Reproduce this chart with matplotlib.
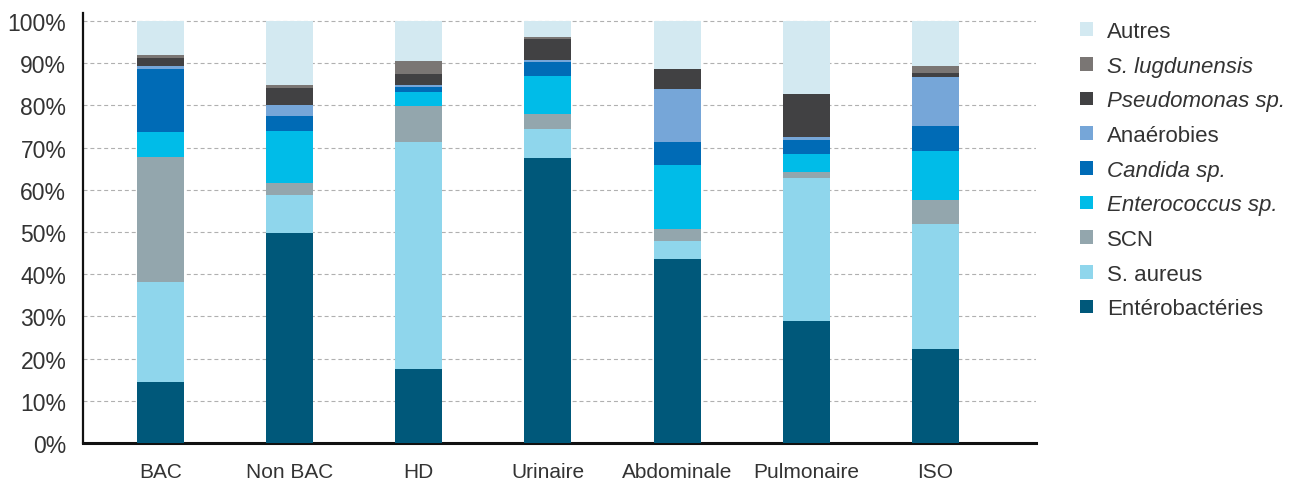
import matplotlib
matplotlib.use("Agg")
import matplotlib.pyplot as plt
import numpy as np

plt.rcParams['font.family'] = ['Liberation Sans', 'DejaVu Sans']

categories = ["BAC", "Non BAC", "HD", "Urinaire", "Abdominale", "Pulmonaire", "ISO"]

enterobacteries = [14.5, 49.8, 17.5, 67.5, 43.6, 28.9, 22.3]
s_aureus        = [23.7,  9.0, 53.8,  6.9,  4.3, 33.9, 29.6]
scn             = [29.6,  2.8,  8.6,  3.6,  2.8,  1.4,  5.7]
enterococcus    = [ 5.9, 12.3,  3.3,  9.0, 15.2,  4.3, 11.6]
candida         = [14.9,  3.6,  1.2,  3.3,  5.4,  3.3,  5.9]
anaerobies      = [ 0.7,  2.6,  0.4,  0.5, 12.6,  0.7, 11.6]
pseudomonas     = [ 1.9,  4.0,  2.6,  4.9,  4.7, 10.2,  1.0]
s_lugdunensis   = [ 0.7,  0.7,  3.1,  0.5,  0.0,  0.0,  1.6]
autres          = [ 8.1, 15.2,  9.5,  3.8, 11.4, 17.3, 10.7]

series_labels = ["Entérobactéries", "S. aureus", "SCN", "Enterococcus sp.", "Candida sp.",
                 "Anaérobies", "Pseudomonas sp.", "S. lugdunensis", "Autres"]
series_values = [enterobacteries, s_aureus, scn, enterococcus, candida,
                 anaerobies, pseudomonas, s_lugdunensis, autres]
series_colors = ["#00587A", "#8FD6EC", "#93A6AD", "#00BCE8", "#006BB6",
                 "#76A6D8", "#414143", "#7A7674", "#D3E9F1"]
italic_series = {"Enterococcus sp.", "Candida sp.", "Pseudomonas sp.", "S. lugdunensis"}

fig = plt.figure(figsize=(13, 4.85), dpi=100)
ax = fig.add_axes([83/1300, 1-444/485, (1036-83)/1300, (444-13.6)/485])

x = np.arange(len(categories))
bottom = np.zeros(len(categories))
handles = []
for lab, vals, col in zip(series_labels, series_values, series_colors):
    v = np.array(vals)
    b = ax.bar(x, v, width=0.364, bottom=bottom, color=col, label=lab, zorder=3, linewidth=0)
    handles.append(b)
    bottom += v

ax.set_xlim(-0.6, 6.78)
ax.set_ylim(0, 102)
ax.set_yticks(np.arange(0, 101, 10))
ax.set_yticklabels([f"{t}%" for t in range(0, 101, 10)])
ax.set_xticks(x)
ax.set_xticklabels(categories)
ax.tick_params(axis='y', length=0, pad=12, labelsize=16.5, labelcolor="#333333")
ax.tick_params(axis='x', length=0, pad=14, labelsize=15, labelcolor="#333333")

for yv in range(10, 101, 10):
    ax.axhline(yv, color="#b0b0b0", lw=0.8, linestyle=(0, (3.6, 2.6)), zorder=1)

for s in ["top", "right"]:
    ax.spines[s].set_visible(False)
ax.spines["left"].set_linewidth(1.6)
ax.spines["bottom"].set_linewidth(2.2)
ax.spines["left"].set_color("#111111")
ax.spines["bottom"].set_color("#111111")

leg = fig.legend(handles[::-1], series_labels[::-1], loc="upper left",
                 bbox_to_anchor=(1080/1300, 1-22/485), frameon=False,
                 fontsize=16, handlelength=0.59, handleheight=0.59,
                 handletextpad=0.62, labelspacing=0.615, borderaxespad=0, borderpad=0)
for t in leg.get_texts():
    t.set_color("#333333")
    if t.get_text() in italic_series:
        t.set_style("italic")

fig.savefig("out.png", dpi=100)
